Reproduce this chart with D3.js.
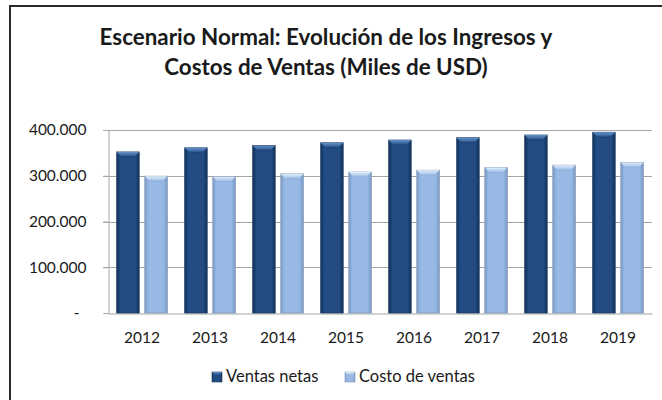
<!DOCTYPE html>
<html>
<head>
<meta charset="utf-8">
<script src="https://cdn.jsdelivr.net/npm/d3@7"></script>
<style>
  html, body { margin: 0; padding: 0; background: #fff; }
  svg { display: block; }
  text { font-family: Lato, "Open Sans", sans-serif; fill: #1a1a1a; }
</style>
</head>
<body>
<svg id="chart" width="662" height="400"></svg>
<script>
// Chart data (miles de USD)
const years = ["2012", "2013", "2014", "2015", "2016", "2017", "2018", "2019"];
const ventasNetas = [352000, 361000, 366000, 372000, 378000, 383000, 389000, 395000];
const costoVentas = [299000, 298000, 304000, 308000, 312000, 318000, 323000, 329000];
const seriesNames = ["Ventas netas", "Costo de ventas"];
const yTicks = [0, 100000, 200000, 300000, 400000];
const titleLines = ["Escenario Normal: Evolución de los Ingresos y", "Costos de Ventas (Miles de USD)"];

const svg = d3.select("#chart");
const plot = { left: 108, right: 652, top: 130, bottom: 313 };

// Outer chart frame
svg.append("rect")
  .attr("x", 10).attr("y", 6).attr("width", 700).attr("height", 500)
  .attr("fill", "#fff").attr("stroke", "#2b2b2b").attr("stroke-width", 2);

// Title
svg.append("g").selectAll("text").data(titleLines).join("text")
  .attr("x", 326).attr("y", (d, i) => 45 + i * 30)
  .attr("text-anchor", "middle")
  .attr("font-size", 22.4).attr("font-weight", 700).attr("fill", "#111")
  .text(d => d);

// Scales
const x0 = d3.scaleBand().domain(years)
  .range([plot.left, plot.right]).paddingInner(0.256).paddingOuter(0.128);
const x1 = d3.scaleBand().domain(seriesNames)
  .range([0, x0.bandwidth()]).paddingInner(0.2);
const y = d3.scaleLinear().domain([0, 400000]).range([plot.bottom, plot.top]);

const fmt = v => v === 0 ? "-" : d3.format(",")(v).replace(/,/g, ".");

// Gridlines
svg.append("g").selectAll("line").data(yTicks.filter(t => t > 0)).join("line")
  .attr("x1", plot.left - 5).attr("x2", plot.right)
  .attr("y1", d => Math.round(y(d)) + 0.5).attr("y2", d => Math.round(y(d)) + 0.5)
  .attr("stroke", "#a6a6a6").attr("stroke-width", 1);

// Y axis
const yAxis = d3.axisLeft(y).tickValues(yTicks).tickFormat(fmt).tickSize(5).tickPadding(17);
const gy = svg.append("g").attr("transform", `translate(${plot.left + 0.5},0)`).call(yAxis);
gy.select(".domain").attr("stroke", "#a6a6a6");
gy.selectAll(".tick line").attr("stroke", "#a6a6a6");
gy.selectAll(".tick text")
  .attr("font-family", "Lato, 'Open Sans', sans-serif")
  .attr("font-size", 15.5).attr("fill", "#1a1a1a")
  .attr("dx", d => d === 0 ? -7 : 0);

// X axis
const xAxis = d3.axisBottom(x0).tickSize(0).tickPadding(18).tickSizeOuter(0);
const gx = svg.append("g").attr("transform", `translate(0,${plot.bottom + 0.5})`).call(xAxis);
gx.select(".domain").attr("stroke", "#a6a6a6");
gx.selectAll(".tick text")
  .attr("font-family", "Lato, 'Open Sans', sans-serif")
  .attr("font-size", 15.5).attr("fill", "#1a1a1a");

// Bevelled bar fills
const defs = svg.append("defs");
const palettes = {
  "Ventas netas": { edge: "#14335a", mid: "#224c83", cap: "#6592cc", capDark: "#163761", stroke: "#1a3a63" },
  "Costo de ventas": { edge: "#7c9ccb", mid: "#97b9e3", cap: "#e2f0fd", capDark: "#86a7d2", stroke: "#8197b4" }
};
seriesNames.forEach((s, i) => {
  const p = palettes[s];
  const g = defs.append("linearGradient").attr("id", "grad" + i)
    .attr("x1", "0").attr("x2", "1").attr("y1", "0").attr("y2", "0");
  g.append("stop").attr("offset", "0").attr("stop-color", p.edge);
  g.append("stop").attr("offset", "0.18").attr("stop-color", p.mid);
  g.append("stop").attr("offset", "0.82").attr("stop-color", p.mid);
  g.append("stop").attr("offset", "1").attr("stop-color", p.edge);
  const c = defs.append("linearGradient").attr("id", "cap" + i)
    .attr("x1", "0").attr("x2", "0").attr("y1", "0").attr("y2", "1");
  c.append("stop").attr("offset", "0").attr("stop-color", p.cap);
  c.append("stop").attr("offset", "1").attr("stop-color", p.mid);
});

const rows = years.map((yr, i) => ({ year: yr, values: [
  { s: seriesNames[0], v: ventasNetas[i], idx: 0 },
  { s: seriesNames[1], v: costoVentas[i], idx: 1 }
]}));

const groups = svg.append("g").selectAll("g").data(rows).join("g")
  .attr("transform", d => `translate(${x0(d.year)},0)`);

const bars = groups.selectAll("g").data(d => d.values).join("g");
bars.append("rect")
  .attr("x", d => x1(d.s)).attr("y", d => y(d.v))
  .attr("width", x1.bandwidth()).attr("height", d => y(0) - y(d.v))
  .attr("fill", d => `url(#grad${d.idx})`)
  .attr("stroke", d => palettes[d.s].stroke).attr("stroke-width", 0.8);
// Top bevel
bars.append("path")
  .attr("d", d => {
    const bx = x1(d.s), by = y(d.v), bw = x1.bandwidth(), b = 5;
    return `M${bx},${by}L${bx + bw},${by}L${bx + bw - b},${by + b}L${bx + b},${by + b}Z`;
  })
  .attr("fill", d => `url(#cap${d.idx})`);
bars.append("line")
  .attr("x1", d => x1(d.s) + 5).attr("x2", d => x1(d.s) + x1.bandwidth() - 5)
  .attr("y1", d => y(d.v) + 5).attr("y2", d => y(d.v) + 5)
  .attr("stroke", d => palettes[d.s].capDark).attr("stroke-width", 0.8).attr("opacity", 0.6);

// Legend
const legendItems = [
  { s: seriesNames[0], idx: 0, x: 212 },
  { s: seriesNames[1], idx: 1, x: 345 }
];
const lg = svg.append("g").selectAll("g").data(legendItems).join("g")
  .attr("transform", d => `translate(${d.x},372)`);
lg.append("rect").attr("width", 10).attr("height", 10)
  .attr("fill", d => `url(#grad${d.idx})`)
  .attr("stroke", d => palettes[d.s].stroke).attr("stroke-width", 0.6);
lg.append("path").attr("d", "M0,0L10,0L7.5,3L2.5,3Z").attr("fill", d => `url(#cap${d.idx})`);
lg.append("text").attr("x", 14).attr("y", 10)
  .attr("font-size", 16.5).text(d => d.s);
</script>
</body>
</html>
